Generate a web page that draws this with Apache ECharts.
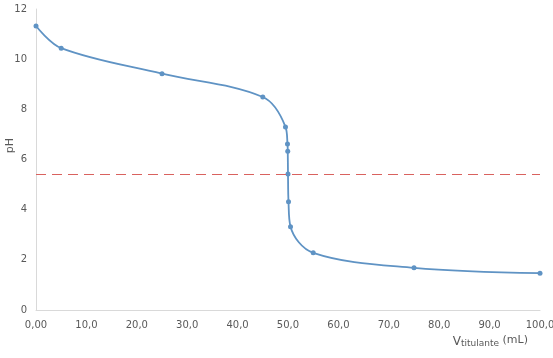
<!DOCTYPE html>
<html>
<head>
<meta charset="utf-8">
<script src="https://cdn.jsdelivr.net/npm/echarts@6/dist/echarts.min.js"></script>
<style>html,body{margin:0;padding:0;background:#fff}#c{width:553px;height:358px}</style>
</head>
<body>
<div id="c"></div>
<script>
var volumes = [0, 5, 25, 45, 49.5, 49.9, 49.95, 50.0, 50.1, 50.5, 55, 75, 100];
var phValues = [11.32, 10.44, 9.42, 8.49, 7.3, 6.62, 6.33, 5.42, 4.32, 3.32, 2.28, 1.68, 1.47];
var equivalencePH = 5.42;
var xTickLabels = ['0,00', '10,0', '20,0', '30,0', '40,0', '50,0', '60,0', '70,0', '80,0', '90,0', '100,0'];

var chart = echarts.init(document.getElementById('c'), null, {renderer: 'canvas'});
var data = volumes.map(function (v, i) { return [v, phValues[i]]; });
chart.setOption({
  animation: false,
  grid: {left: 36, right: 13, top: 9, bottom: 48, containLabel: false, outerBoundsMode: 'none'},
  xAxis: {
    type: 'value', min: 0, max: 100, interval: 10,
    axisLine: {show: true, lineStyle: {color: '#d9d9d9', width: 1}},
    axisTick: {show: false},
    splitLine: {show: false},
    axisLabel: {
      color: '#595959', fontFamily: 'DejaVu Sans', fontSize: 10, margin: 10,
      formatter: function (v) { return xTickLabels[Math.round(v / 10)]; }
    },
    name: '{v|V}{s|titulante}{u| (mL)}',
    nameLocation: 'end',
    nameGap: 0,
    nameMoveOverlap: false,
    nameTextStyle: {
      align: 'right', verticalAlign: 'top', padding: [23, 12, 0, 0],
      rich: {
        v: {fontFamily: 'DejaVu Sans', fontSize: 12, color: '#595959', verticalAlign: 'bottom'},
        s: {fontFamily: 'DejaVu Sans', fontSize: 9, color: '#595959', padding: [6, 0, 0, 0]},
        u: {fontFamily: 'DejaVu Sans', fontSize: 11, color: '#595959'}
      }
    }
  },
  yAxis: {
    type: 'value', min: 0, max: 12, interval: 2,
    axisLine: {show: true, lineStyle: {color: '#d9d9d9', width: 1}},
    axisTick: {show: false},
    splitLine: {show: false},
    axisLabel: {color: '#595959', fontFamily: 'DejaVu Sans', fontSize: 10, margin: 9},
    name: 'pH',
    nameLocation: 'middle',
    nameRotate: 90,
    nameGap: 20,
    nameMoveOverlap: false,
    nameTextStyle: {color: '#595959', fontFamily: 'DejaVu Sans', fontSize: 11, padding: [0, 0, 0, 28]}
  },
  series: [{
    type: 'line',
    data: data,
    smooth: 0.35,
    symbol: 'circle',
    symbolSize: 5,
    lineStyle: {color: '#5f93c4', width: 1.8},
    itemStyle: {color: '#5f93c4'},
    markLine: {
      silent: true,
      symbol: 'none',
      label: {show: false},
      lineStyle: {color: '#d9625f', type: [10, 6], width: 1},
      data: [{yAxis: equivalencePH}]
    }
  }]
});
</script>
</body>
</html>
